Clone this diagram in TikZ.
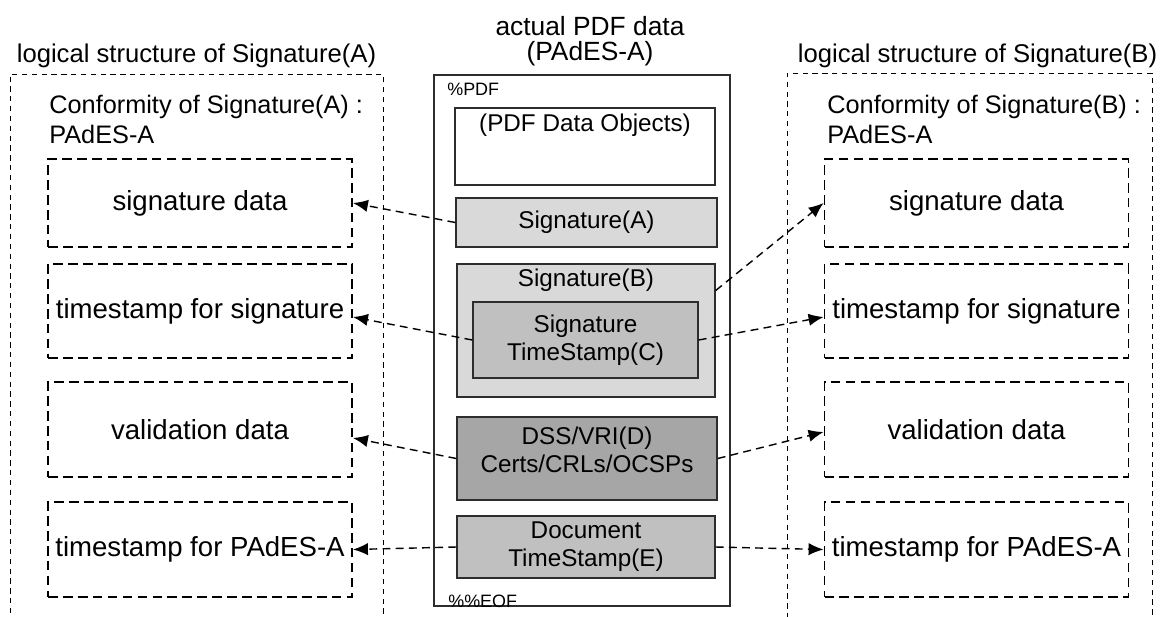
\documentclass[tikz,border=0pt]{standalone}
\usepackage{fontspec}
\setmainfont{Liberation Sans}
\usepackage{tikz}
\usetikzlibrary{calc,arrows.meta}
\definecolor{SigLight}{RGB}{217,217,217}
\definecolor{SigMid}{RGB}{192,192,192}
\definecolor{SigDark}{RGB}{166,166,166}
\definecolor{PdfEdge}{RGB}{45,45,45}

\tikzset{
  logframe/.style={draw=black,line width=0.5pt,dash pattern=on 3pt off 2.6pt,
        inner sep=0pt,minimum height=11.6cm},
  logbox/.style={draw=black,line width=1.1pt,dash pattern=on 5.5pt off 3pt,
        inner sep=0pt,minimum width=6.08cm,font=\fontsize{15.7}{18}\selectfont},
  pdftext/.style={font=\fontsize{13.8}{15.9}\selectfont},
  pdfbox/.style={draw=PdfEdge,line width=0.8pt,inner sep=0pt,align=center,pdftext},
  link/.style={-{Latex[length=8.5pt,width=7pt]},line width=0.8pt,dash pattern=on 4.5pt off 3pt},
}

\begin{document}
\begin{tikzpicture}
  \useasboundingbox (0,0) rectangle (23.24,-12.32);
  \clip (0,0) rectangle (23.24,-12.32);

  \node[logframe,minimum width=7.46cm] (frameA) at (3.93,-7.28) {};
  \node[logframe,minimum width=7.3cm] (frameB) at (19.39,-7.26) {};
  \node[anchor=base,font=\fontsize{14.6}{17}\selectfont] (titleA) at (3.93,-1.24)
    {logical structure of Signature(A)};
  \node[anchor=base,font=\fontsize{14.6}{17}\selectfont] (titleB) at (19.55,-1.24)
    {logical structure of Signature(B)};
  \node[anchor=base west,align=left,inner sep=0pt,font=\fontsize{14.4}{17}\selectfont]
    (confA) at (0.98,-2.86) {Conformity of Signature(A) :\\PAdES-A};
  \node[anchor=base west,align=left,inner sep=0pt,font=\fontsize{14.4}{17}\selectfont]
    (confB) at (16.54,-2.86) {Conformity of Signature(B) :\\PAdES-A};

  \node[logbox,minimum height=1.76cm] (sigdataA) at (4.0,-4.06) {signature data};
  \node[logbox,minimum height=1.88cm] (tsA) at (4.0,-6.22) {timestamp for signature};
  \node[logbox,minimum height=1.9cm] (valA) at (4.0,-8.59) {validation data};
  \node[logbox,minimum height=1.9cm] (padesA) at (4.0,-10.99) {timestamp for PAdES-A};

  \node[logbox,minimum height=1.76cm] (sigdataB) at (19.53,-4.06) {signature data};
  \node[logbox,minimum height=1.88cm] (tsB) at (19.53,-6.22) {timestamp for signature};
  \node[logbox,minimum height=1.9cm] (valB) at (19.53,-8.59) {validation data};
  \node[logbox,minimum height=1.9cm] (padesB) at (19.53,-10.99) {timestamp for PAdES-A};

  \node[align=center,font=\fontsize{15}{14}\selectfont] (pdftitle) at (11.8,-0.82)
    {actual PDF data\\(PAdES-A)};
  \node[draw=PdfEdge,fill=white,line width=0.9pt,minimum width=5.92cm,minimum height=10.62cm]
    (pdf) at (11.64,-6.81) {};
  \node[anchor=base west,inner sep=0pt,font=\fontsize{10.2}{12}\selectfont] (pdfhead)
    at (8.94,-1.9) {\%PDF};
  \node[anchor=base west,inner sep=0pt,font=\fontsize{10.2}{12}\selectfont] (pdfeof)
    at (8.96,-12.14) {\%\%EOF};

  \node[pdfbox,fill=white,minimum width=5.2cm,minimum height=1.54cm,
        label={[pdftext,anchor=north,inner sep=0.12cm]north:(PDF Data Objects)}]
    (objects) at (11.7,-2.93) {};
  \node[pdfbox,fill=SigLight,minimum width=5.22cm,minimum height=0.98cm]
    (sigA) at (11.73,-4.45) {Signature(A)};
  \node[pdfbox,fill=SigLight,minimum width=5.16cm,minimum height=2.66cm,
        label={[pdftext,anchor=north,inner sep=0.1cm]north:Signature(B)}]
    (sigB) at (11.72,-6.61) {};
  \node[pdfbox,fill=SigMid,minimum width=4.5cm,minimum height=1.52cm]
    (tsC) at (11.71,-6.8) {Signature\\TimeStamp(C)};
  \node[pdfbox,fill=SigDark,minimum width=5.2cm,minimum height=1.66cm,
        label={[pdftext,align=center,anchor=north,inner sep=0.2cm]north:DSS/VRI(D)\\Certs/CRLs/OCSPs}]
    (dss) at (11.74,-9.17) {};
  \node[pdfbox,fill=SigMid,minimum width=5.16cm,minimum height=1.24cm]
    (docts) at (11.72,-10.94) {Document\\TimeStamp(E)};

  \draw[link] (sigA.west) -- (sigdataA.east);
  \draw[link] (tsC.west) -- ([yshift=-0.12cm]tsA.east);
  \draw[link] (dss.west) -- ([yshift=-0.17cm]valA.east);
  \draw[link] (docts.west) -- (padesA.east);

  \draw[link] ([yshift=0.8cm]sigB.east) -- (sigdataB.west);
  \draw[link] (tsC.east) -- ([yshift=-0.12cm]tsB.west);
  \draw[link] (dss.east) -- ([yshift=-0.05cm]valB.west);
  \draw[link] (docts.east) -- (padesB.west);
\end{tikzpicture}
\end{document}
